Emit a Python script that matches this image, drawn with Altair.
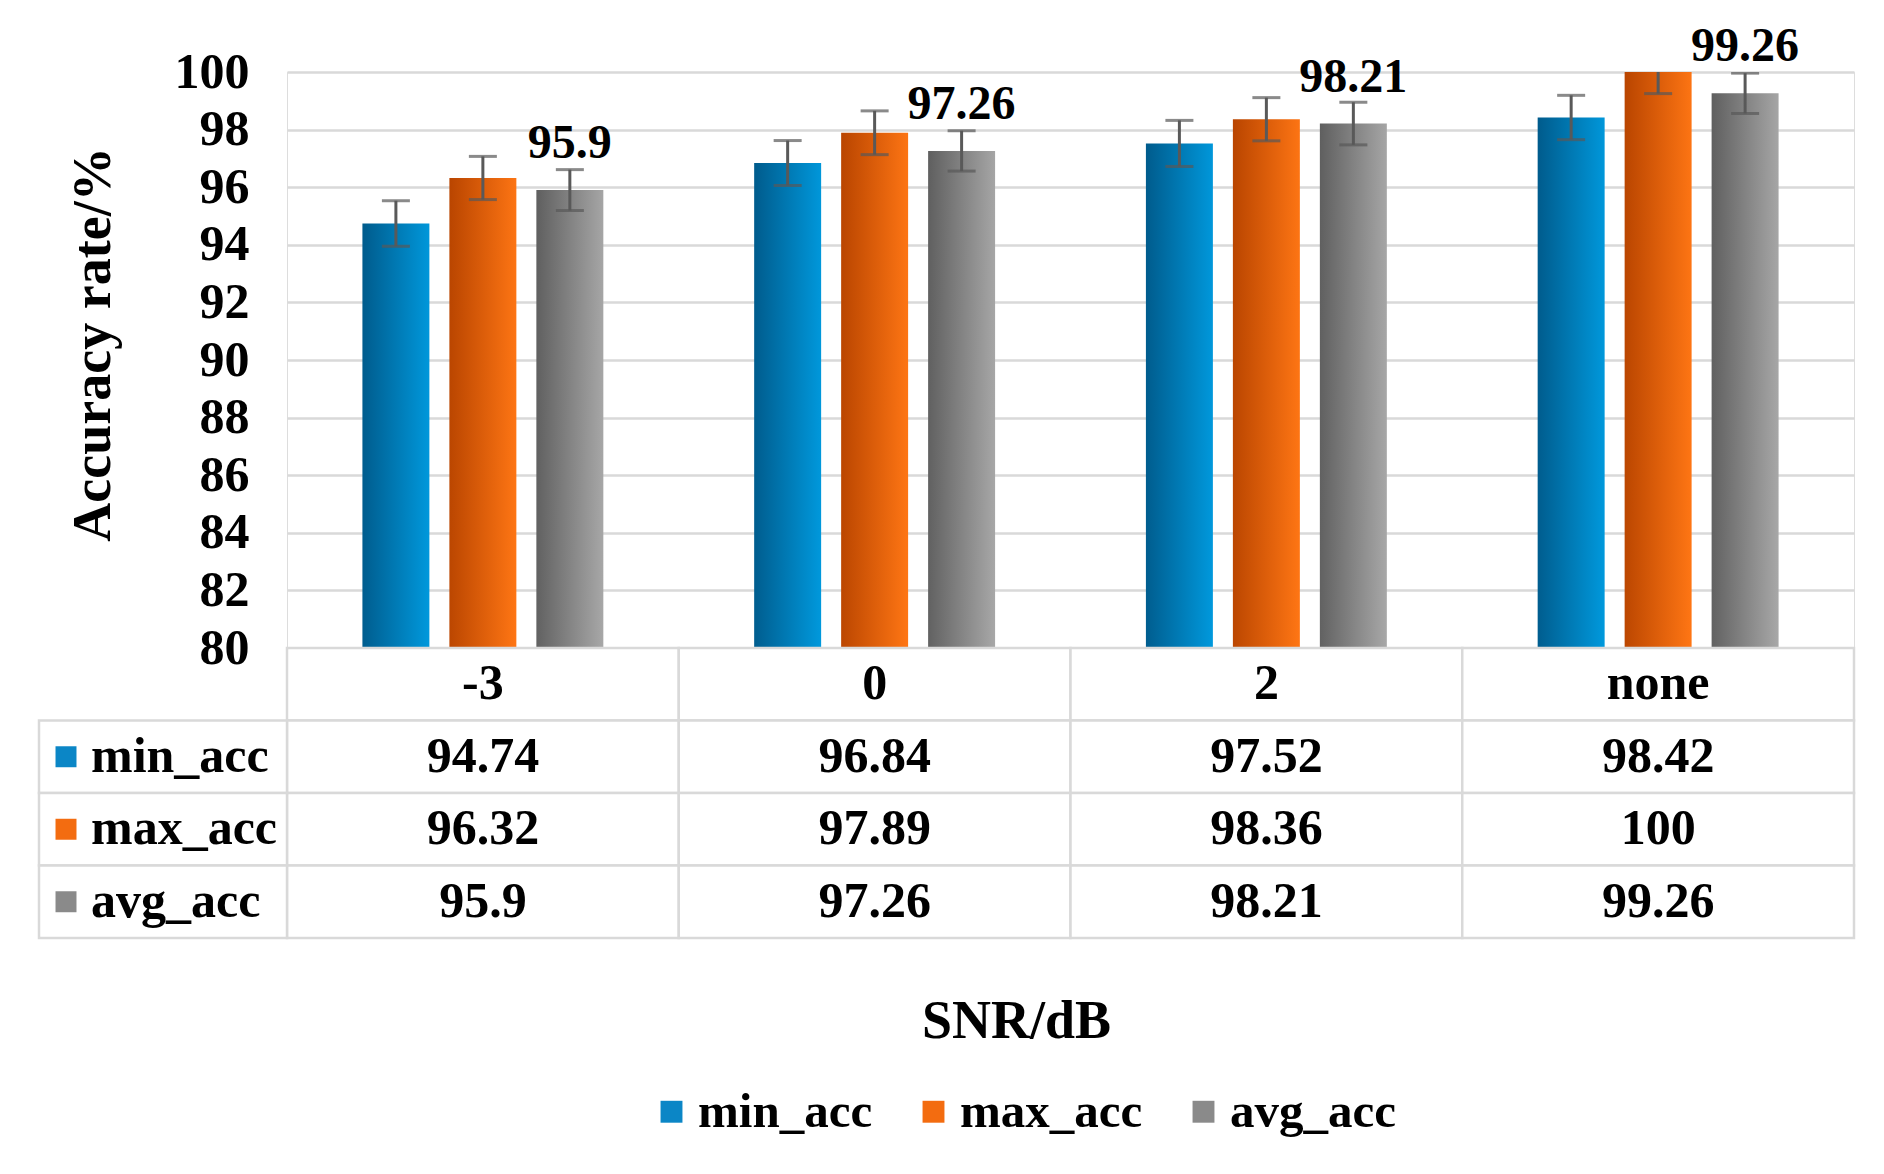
import altair as alt
import pandas as pd

# ---------------- data ----------------
snr = ["-3", "0", "2", "none"]
series = ["min_acc", "max_acc", "avg_acc"]
min_acc = [94.74, 96.84, 97.52, 98.42]
max_acc = [96.32, 97.89, 98.36, 100]
avg_acc = [95.9, 97.26, 98.21, 99.26]
min_err = [0.79, 0.78, 0.80, 0.77]
max_err = [0.75, 0.76, 0.75, 0.75]
avg_err = [0.71, 0.70, 0.74, 0.70]
y_ticks = list(range(80, 101, 2))

flat_colors = ["#0b86c6", "#f36c10", "#8a8a8a"]
gradients = [("#005b8c", "#0099dd"), ("#b94500", "#ff7614"), ("#5f5f5f", "#a8a8a8")]

rows = []
for s, vals, errs in zip(series, [min_acc, max_acc, avg_acc], [min_err, max_err, avg_err]):
    for c, v, e in zip(snr, vals, errs):
        rows.append({"series": s, "snr": c, "value": v, "lo": v - e, "hi": v + e,
                     "text": f"{v:g}"})
df = pd.DataFrame(rows)

header_df = pd.DataFrame({"row": ["header"] * len(snr), "snr": snr, "text": snr})
vals_df = df.rename(columns={"series": "row"})[["row", "snr", "text"]]
cells_df = pd.concat([header_df, vals_df], ignore_index=True)
series_df = pd.DataFrame({"row": series})
row_order = ["header"] + series

# ---------------- style ----------------
FONT = "Liberation Serif"
W, H = 1567, 576
ROW_H = 72.5
GRID = "#d9d9d9"
ERR = "#595959"

y_axis = alt.Axis(values=y_ticks, title="Accuracy rate/%", titleFont=FONT, titleFontSize=54,
                  titleFontWeight="bold", titleColor="black", titlePadding=54, titleY=272,
                  labelFont=FONT, labelFontSize=50, labelFontWeight="bold", labelColor="black",
                  labelPadding=38, ticks=False, tickSize=0, domain=False, grid=True,
                  gridColor=GRID, gridWidth=2.5)
y_scale = alt.Scale(domain=[80, 100], zero=False, nice=False)

x_top = alt.X("snr:N", sort=snr, axis=None,
              scale=alt.Scale(domain=snr, paddingInner=0.385, paddingOuter=0.1925))
xoff = alt.XOffset("series:N", sort=series,
                   scale=alt.Scale(domain=series, paddingInner=0.23, paddingOuter=0))

base = alt.Chart(df)

bar_layers = []
for s, (c0, c1) in zip(series, gradients):
    grad = alt.Gradient(gradient="linear",
                        stops=[alt.GradientStop(offset=0, color=c0),
                               alt.GradientStop(offset=1, color=c1)],
                        x1=0, x2=1, y1=0, y2=0.2)
    bar_layers.append(
        base.transform_filter(alt.datum.series == s)
        .mark_bar(color=grad, clip=True)
        .encode(x=x_top, xOffset=xoff,
                y=alt.Y("value:Q", scale=y_scale, axis=y_axis))
    )

err_rule = base.mark_rule(color=ERR, strokeWidth=3, clip=True).encode(
    x=x_top, xOffset=xoff,
    y=alt.Y("lo:Q", scale=y_scale, axis=y_axis), y2="hi:Q")
cap_lo = base.mark_tick(color=ERR, thickness=3, size=28, clip=True).encode(
    x=x_top, xOffset=xoff, y=alt.Y("lo:Q", scale=y_scale, axis=y_axis))
cap_hi = base.mark_tick(color=ERR, thickness=3, size=28, clip=True).encode(
    x=x_top, xOffset=xoff, y=alt.Y("hi:Q", scale=y_scale, axis=y_axis))

labels = base.transform_filter(alt.datum.series == "avg_acc").mark_text(
    font=FONT, fontWeight="bold", fontSize=48, baseline="alphabetic", dy=-32, color="black"
).encode(x=x_top, xOffset=xoff, y=alt.Y("value:Q", scale=y_scale, axis=y_axis),
         text="text:N")

top = alt.layer(*bar_layers, err_rule, cap_lo, cap_hi, labels).properties(width=W, height=H)

# ---------------- table ----------------
x_tab = alt.X("snr:N", sort=snr,
              scale=alt.Scale(domain=snr, paddingInner=0, paddingOuter=0),
              axis=alt.Axis(title="SNR/dB", labels=False, ticks=False, domain=False, grid=False,
                            titleFont=FONT, titleFontSize=54, titleFontWeight="bold",
                            titleColor="black", titleX=729, titleY=83,
                            titleBaseline="middle"))
y_tab = alt.Y("row:N", sort=row_order,
              scale=alt.Scale(domain=row_order, paddingInner=0, paddingOuter=0), axis=None)

cell_rect = alt.Chart(cells_df).mark_rect(fill="white", stroke=GRID, strokeWidth=2.5).encode(
    x=x_tab, y=y_tab)
label_rect = alt.Chart(series_df).mark_rect(fill="white", stroke=GRID, strokeWidth=2.5).encode(
    x=alt.value(-248), x2=alt.value(0), y=y_tab)
cell_text = alt.Chart(cells_df).mark_text(
    font=FONT, fontWeight="bold", fontSize=50, baseline="middle", color="black"
).encode(x=x_tab, y=y_tab, text="text:N")
keys = alt.Chart(series_df).mark_point(shape="square", filled=True, size=440, opacity=1).encode(
    x=alt.value(-221), y=y_tab,
    color=alt.Color("row:N", scale=alt.Scale(domain=series, range=flat_colors),
                    legend=alt.Legend(title=None, orient="none", legendX=360, legendY=1015,
                                      direction="horizontal", symbolType="square",
                                      symbolSize=480, symbolStrokeWidth=0,
                                      labelFont=FONT, labelFontSize=49, labelLimit=400,
                                      labelFontWeight="bold", labelColor="black",
                                      labelOffset=2, columnPadding=36)))
row_text = alt.Chart(series_df).mark_text(
    font=FONT, fontWeight="bold", fontSize=50, baseline="middle", align="left", color="black"
).encode(x=alt.value(-196), y=y_tab, text="row:N")

table = alt.layer(cell_rect, label_rect, cell_text, keys, row_text).properties(
    width=W, height=ROW_H * 4)

chart = alt.vconcat(top, table, spacing=0, bounds="flush").properties(
    padding={"left": 29, "top": 14, "right": 5, "bottom": 5}
).configure_view(strokeWidth=0).configure(background="white")

chart.save("out.html", embed_options={"renderer": "svg", "actions": False})
